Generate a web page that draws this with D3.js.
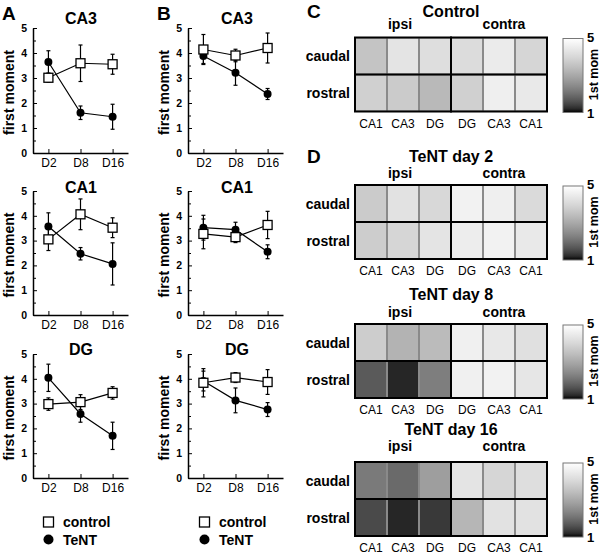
<!DOCTYPE html>
<html><head><meta charset="utf-8">
<script src="https://cdn.jsdelivr.net/npm/d3@7"></script>
<style>body{margin:0;background:#fff}svg{display:block;font-family:"Liberation Sans",Arial,sans-serif}</style>
</head><body><svg id="c" width="600" height="559"></svg>
<script>
// ---------- data ----------
const days = ["D2", "D8", "D16"];
const yTicks = [0, 1, 2, 3, 4, 5];
const lineTitles = ["CA3", "CA1", "DG"];
// Panel A
const aControl = [[3.01, 3.59, 3.55], [3.05, 4.06, 3.52], [2.98, 3.06, 3.43]];
const aControlErr = [[0.18, 0.73, 0.4], [0.45, 0.62, 0.4], [0.25, 0.3, 0.25]];
const aTeNT = [[3.64, 1.61, 1.45], [3.57, 2.47, 2.06], [4.04, 2.58, 1.7]];
const aTeNTErr = [[0.45, 0.27, 0.5], [0.55, 0.25, 0.85], [0.55, 0.33, 0.55]];
// Panel B
const bControl = [[4.14, 3.9, 4.2], [3.27, 3.14, 3.63], [3.84, 4.05, 3.87]];
const bControlErr = [[0.6, 0.25, 0.6], [0.6, 0.22, 0.55], [0.57, 0.2, 0.5]];
const bTeNT = [[3.88, 3.21, 2.36], [3.52, 3.44, 2.55], [3.91, 3.13, 2.76]];
const bTeNTErr = [[0.3, 0.5, 0.22], [0.5, 0.3, 0.28], [0.4, 0.5, 0.28]];
const legendLabels = ["control", "TeNT"];
// Heatmaps
const heatCols = ["CA1", "CA3", "DG", "DG", "CA3", "CA1"];
const heatRows = ["caudal", "rostral"];
const sides = ["ipsi", "contra"];
const heatTitles = ["Control", "TeNT day 2", "TeNT day 8", "TeNT day 16"];
const heatControl = [[3.58, 4.32, 4.18, 4.13, 4.49, 3.99], [3.85, 3.74, 3.34, 3.85, 4.59, 4.44]];
const heatDay2 = [[3.74, 4.27, 4.03, 4.67, 4.59, 4.08], [3.78, 3.99, 4.32, 4.54, 4.67, 4.44]];
const heatDay8 = [[3.78, 3.22, 3.39, 4.62, 4.42, 4.22], [1.71, 1.17, 2.24, 4.62, 4.67, 4.37]];
const heatDay16 = [[2.17, 1.93, 2.80, 4.32, 3.99, 4.18], [1.51, 1.17, 1.33, 3.28, 4.27, 4.27]];
const colorbarTicks = [1, 5];
const colorbarLabel = "1st mom";
const panelLetters = ["A", "B", "C", "D"];

// ---------- layout ----------
const svg = d3.select("#c");
const yZero = [153, 315, 478];
const yFive = [28, 191, 354];
const titleBase = [24, 193, 355];
const colsLayout = [{x0: 33, x1: 128, tc: 81}, {x0: 188, x1: 283, tc: 237}];

function linePanel(col, row, ctrl, ctrlE, tent, tentE) {
  const L = colsLayout[col];
  const x = d3.scalePoint().domain(days).range([L.x0, L.x1]).padding(0.48);
  const y = d3.scaleLinear().domain([0, 5]).range([yZero[row], yFive[row]]);
  const g = svg.append("g");
  const xa = g.append("g").attr("transform", `translate(0,${yZero[row]})`)
    .call(d3.axisBottom(x).tickSizeInner(-4).tickSizeOuter(0).tickPadding(5));
  xa.select(".domain").attr("stroke-width", 1.5);
  xa.selectAll("text").attr("font-size", 12).attr("font-family", "Liberation Sans, Arial").attr("fill", "#000");
  const ya = g.append("g").attr("transform", `translate(${L.x0},0)`)
    .call(d3.axisLeft(y).tickValues(yTicks).tickFormat(d3.format("d")).tickSizeInner(-4).tickSizeOuter(0).tickPadding(6));
  ya.select(".domain").attr("stroke-width", 1.5);
  ya.selectAll("text").attr("font-size", 10.5).attr("font-weight", "bold").attr("font-family", "Liberation Sans, Arial").attr("fill", "#000");
  const minor = g.append("g").attr("transform", `translate(${L.x0},0)`)
    .call(d3.axisLeft(y).tickValues([0.5, 1.5, 2.5, 3.5, 4.5]).tickSizeInner(-3).tickSizeOuter(0).tickFormat(""));
  minor.select(".domain").remove();
  g.append("text").attr("transform", `translate(${L.x0 - 19.5},${(yZero[row] + yFive[row]) / 2 + 2}) rotate(-90)`)
    .attr("text-anchor", "middle").attr("font-size", 14).attr("font-weight", "bold").text("first moment");
  g.append("text").attr("x", L.tc).attr("y", titleBase[row]).attr("text-anchor", "middle")
    .attr("font-size", 16).attr("font-weight", "bold").text(lineTitles[row]);
  const series = [
    {m: tent, e: tentE, type: "circle"},
    {m: ctrl, e: ctrlE, type: "square"}
  ];
  const line = d3.line().x((d, i) => x(days[i])).y(d => y(d));
  series.forEach(s => {
    s.m.forEach((v, i) => {
      const cx = x(days[i]);
      g.append("line").attr("x1", cx).attr("x2", cx).attr("y1", y(v - s.e[i])).attr("y2", y(v + s.e[i])).attr("stroke", "#000").attr("stroke-width", 1.2);
      [v - s.e[i], v + s.e[i]].forEach(w => g.append("line").attr("x1", cx - 2).attr("x2", cx + 2).attr("y1", y(w)).attr("y2", y(w)).attr("stroke", "#000").attr("stroke-width", 1.2));
    });
    g.append("path").datum(s.m).attr("d", line).attr("fill", "none").attr("stroke", "#000").attr("stroke-width", 1.2);
  });
  series.forEach(s => {
    s.m.forEach((v, i) => {
      const cx = x(days[i]);
      if (s.type === "circle") {
        g.append("circle").attr("cx", cx).attr("cy", y(v)).attr("r", 4).attr("fill", "#000");
      } else {
        g.append("rect").attr("x", cx - 4.5).attr("y", y(v) - 4.5).attr("width", 9).attr("height", 9)
          .attr("fill", "#fff").attr("stroke", "#000").attr("stroke-width", 1.3);
      }
    });
  });
}
for (let r = 0; r < 3; r++) {
  linePanel(0, r, aControl[r], aControlErr[r], aTeNT[r], aTeNTErr[r]);
  linePanel(1, r, bControl[r], bControlErr[r], bTeNT[r], bTeNTErr[r]);
}
[{sx: 48.5, tx: 63}, {sx: 204.5, tx: 219}].forEach(l => {
  svg.append("rect").attr("x", l.sx - 5).attr("y", 517).attr("width", 10).attr("height", 10)
    .attr("fill", "#fff").attr("stroke", "#000").attr("stroke-width", 1.3);
  svg.append("circle").attr("cx", l.sx).attr("cy", 539.5).attr("r", 5).attr("fill", "#000");
  svg.append("text").attr("x", l.tx).attr("y", 527).attr("font-size", 14).attr("font-weight", "bold").text(legendLabels[0]);
  svg.append("text").attr("x", l.tx).attr("y", 544.5).attr("font-size", 14).attr("font-weight", "bold").text(legendLabels[1]);
});

// ---------- heatmaps ----------
const tScale = d3.scaleLinear().domain([1, 5]).range([0, 1]).clamp(true);
const grayInterp = d3.interpolateRgb("#000000", "#ffffff");
const color = v => grayInterp(Math.pow(tScale(v), 0.6));
const heatData = [heatControl, heatDay2, heatDay8, heatDay16];
const hTops = [37.5, 185, 324, 462];
const hTitleBase = [17, 162, 300, 435];
const hSideBase = [29, 178, 317, 451];
const hx = d3.scaleBand().domain(d3.range(6)).range([355, 547]);
const defs = svg.append("defs");
const grad = defs.append("linearGradient").attr("id", "cb").attr("x1", 0).attr("y1", 1).attr("x2", 0).attr("y2", 0);
d3.range(0, 1.0001, 0.05).forEach(t => grad.append("stop").attr("offset", t).attr("stop-color", color(1 + 4 * t)));

heatData.forEach((data, k) => {
  const top = hTops[k], H = 74;
  const hy = d3.scaleBand().domain(d3.range(2)).range([top, top + H]);
  const g = svg.append("g");
  g.append("text").attr("x", 451).attr("y", hTitleBase[k]).attr("text-anchor", "middle")
    .attr("font-size", 16).attr("font-weight", "bold").text(heatTitles[k]);
  g.append("text").attr("x", hx(1) + hx.bandwidth() / 2 - 3).attr("y", hSideBase[k]).attr("text-anchor", "middle")
    .attr("font-size", 14).attr("font-weight", "bold").text(sides[0]);
  g.append("text").attr("x", hx(4) + hx.bandwidth() / 2 + 5).attr("y", hSideBase[k]).attr("text-anchor", "middle")
    .attr("font-size", 14).attr("font-weight", "bold").text(sides[1]);
  data.forEach((row, r) => row.forEach((v, c) => {
    g.append("rect").attr("x", hx(c) + 0.5).attr("y", hy(r) + 0.5).attr("width", hx.bandwidth() - 1).attr("height", hy.bandwidth() - 1)
      .attr("fill", color(v)).attr("stroke", "#8a8a8a").attr("stroke-width", 1);
  }));
  [[0, 3], [3, 6]].forEach(([a, b]) => {
    g.append("rect").attr("x", hx(a)).attr("y", top).attr("width", hx(b - 1) + hx.bandwidth() - hx(a)).attr("height", H)
      .attr("fill", "none").attr("stroke", "#000").attr("stroke-width", 2);
  });
  g.append("line").attr("x1", hx(0)).attr("x2", hx(5) + hx.bandwidth()).attr("y1", top + H / 2).attr("y2", top + H / 2)
    .attr("stroke", "#000").attr("stroke-width", 2);
  heatRows.forEach((lab, r) => g.append("text").attr("x", 350).attr("y", hy(r) + hy.bandwidth() / 2 + 5)
    .attr("text-anchor", "end").attr("font-size", 14).attr("font-weight", "bold").text(lab));
  heatCols.forEach((lab, c) => g.append("text").attr("x", hx(c) + hx.bandwidth() / 2).attr("y", top + H + 16)
    .attr("text-anchor", "middle").attr("font-size", 12).text(lab));
  const cy = d3.scaleLinear().domain([1, 5]).range([top + H + 1, top + 1]);
  g.append("rect").attr("x", 563).attr("y", top + 1).attr("width", 20).attr("height", H)
    .attr("fill", "url(#cb)").attr("stroke", "#777").attr("stroke-width", 1);
  colorbarTicks.forEach(t => g.append("text").attr("x", 587).attr("y", cy(t) + (t === 5 ? 3 : 5))
    .attr("font-size", 13).attr("font-weight", "bold").text(t));
  g.append("text").attr("transform", `translate(598,${top + H / 2}) rotate(-90)`).attr("text-anchor", "middle")
    .attr("font-size", 12.5).attr("font-weight", "bold").text(colorbarLabel);
});

[[2, 20], [157, 20], [307, 18], [307, 163]].forEach((p, i) =>
  svg.append("text").attr("x", p[0]).attr("y", p[1]).attr("font-size", 19).attr("font-weight", "bold").text(panelLetters[i]));
</script></body></html>
